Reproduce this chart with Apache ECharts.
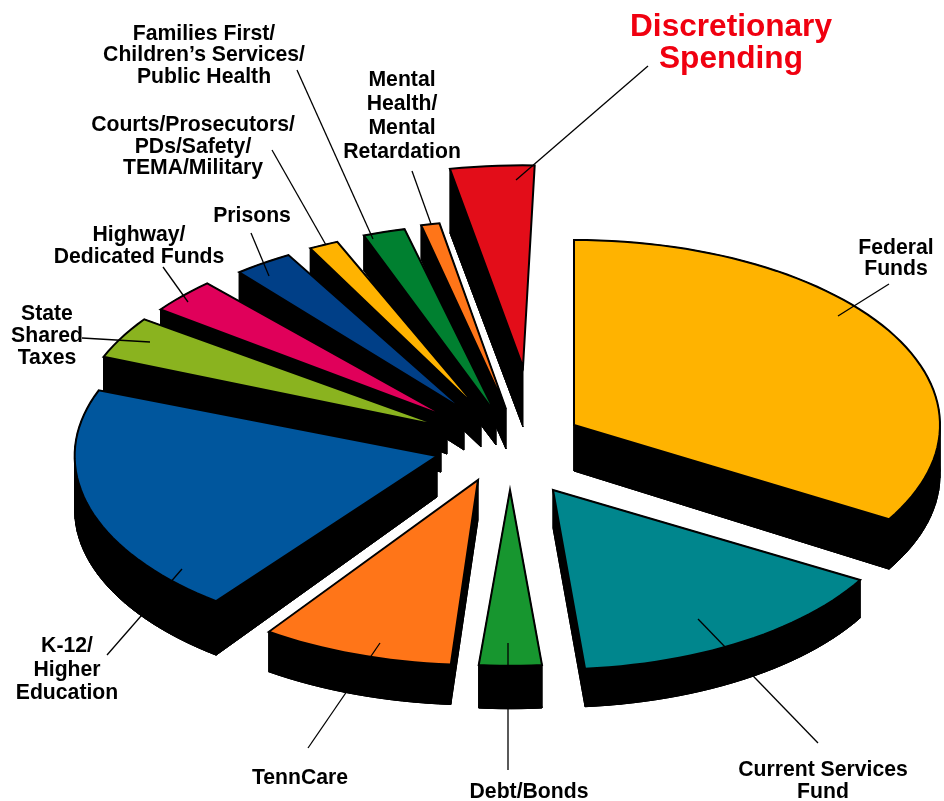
<!DOCTYPE html>
<html>
<head>
<meta charset="utf-8">
<style>html,body{margin:0;padding:0;background:#fff}#c{width:944px;height:801px}</style>
<script src="https://cdn.jsdelivr.net/npm/echarts@6/dist/echarts.min.js"></script>
</head>
<body>
<div id="c"></div>
<script>
// ---- data (share of budget, percent, clockwise from 12 o'clock) ----
const categories = ['Federal\nFunds','Current Services\nFund','Debt/Bonds','TennCare','K-12/\nHigher\nEducation',
  'State\nShared\nTaxes','Highway/\nDedicated Funds','Prisons','Courts/Prosecutors/\nPDs/Safety/\nTEMA/Military',
  'Families First/\nChildren\u2019s Services/\nPublic Health','Mental\nHealth/\nMental\nRetardation','Discretionary\nSpending'];
const values = [33.5,15.2,2.9,8.5,20.4,3.7,3.1,2.7,1.3,1.8,0.8,3.4];

// ---- styling and layout ----
const colors = ['#FFB300','#00868D','#17962F','#FF7518','#00569D','#8AB31F','#E0005A','#003F87','#FFB300','#008030','#FF7518','#E30D19'];
const gapBefore = [0,-0.5,-0.1,-0.9,2.7,1.1,1.2,2.7,2,2.6,0.9,-0.3];   // degrees of angular gap
const explodeX = [574,553,510,478,437,441,447,464,481,496,506,523];
const explodeY = [425,490,490,480,456,426,417,410,412,414,409,367];
const radiusScale = [1,0.97,0.95,1,0.99,0.995,0.975,0.965,1,1.03,1.02,1.09];
const rimDepth = [50,38,43,40,54,40,40,35,35,35,34,64];
const tipDepth = [46,38,43,40,41,46,37,40,35,31,40,60];
const wallArc = [1,1,1,1,1,1,1,1,1,1,1,0];   // share of the rim that is extruded
const RX = 366, RY = 185, START = -90;
const labelX = [896,823,529,300,67,47,139,252,193,204,402,731];
const labelY = [258.5,781,792,778,670,336,246,216,147,55.5,116,43];
const labelLH = [21,22,22,22,23.5,22,22,22,21.5,21.5,24,32];
const labelSize = [21.2,21.2,21.2,21.2,21.2,21.2,21.2,21.2,21.2,21.2,21.2,31.6];
const labelColor = ['#000','#000','#000','#000','#000','#000','#000','#000','#000','#000','#000','#F00010'];
const leaderA = [[838,316],[698,619],[508,643],[380,643],[182,569],[150,342],[188,302],[269,276],[326,245],[373,239],[431,224],[516,180]];
const leaderB = [[889,284],[818,743],[508,770],[308,748],[107,655],[82,338],[163,267],[251,233],[272,150],[297,70],[412,171],[648,66]];

// angular extents derived from the values
const spans = [];
(function(){ let a = START;
  values.forEach((v,i)=>{ a += gapBefore[i]; const s = v*3.6; spans.push([a,a+s]); a += s; });
})();

function renderSlice(params, api){
  const i = api.value(0);
  const [a0,a1] = spans[i];
  const ax = explodeX[i], ay = explodeY[i], sc = radiusScale[i];
  const top = [[ax,ay]], bottom = [[ax,ay+tipDepth[i]]];
  const n = Math.max(4, Math.ceil((a1-a0)/2));
  const wallN = Math.round(n*wallArc[i]);
  for(let k=0;k<=n;k++){
    const t = (a0+(a1-a0)*k/n)*Math.PI/180;
    const x = ax+RX*sc*Math.cos(t), y = ay+RY*sc*Math.sin(t);
    top.push([x,y]);
    if(k<=wallN) bottom.push([x,y+rimDepth[i]]);
  }
  const black = {fill:'#000',stroke:'#000',lineWidth:1};
  const children = [{type:'polygon',shape:{points:bottom},style:black}];
  for(let k=0;k<bottom.length;k++){
    const m=k+1;
    if(m>=bottom.length && wallArc[i]<1) break;
    const mm=m%bottom.length;
    children.push({type:'polygon',shape:{points:[top[k],top[mm],bottom[mm],bottom[k]]},style:black});
  }
  children.push({type:'polygon',shape:{points:top},style:{fill:colors[i],stroke:'#000',lineWidth:2,lineJoin:'miter'}});
  return {type:'group',children};
}

const order = values.map((v,i)=>[values.length-1-i, values[values.length-1-i]]); // back slices first

const leaders = leaderA.map((p,i)=>({type:'line',z:10,silent:true,
  shape:{x1:p[0],y1:p[1],x2:leaderB[i][0],y2:leaderB[i][1]},style:{stroke:'#000',lineWidth:1.3}}));
const labels = categories.map((c,i)=>({type:'text',z:11,silent:true,x:labelX[i],y:labelY[i],
  style:{text:c,fill:labelColor[i],font:'bold '+labelSize[i]+'px "Liberation Sans", Arial, sans-serif',
  align:'center',verticalAlign:'middle',lineHeight:labelLH[i]}}));

const chart = echarts.init(document.getElementById('c'),null,{width:944,height:801});
chart.setOption({
  animation:false,
  backgroundColor:'#fff',
  series:[{type:'custom',coordinateSystem:'none',renderItem:renderSlice,data:order,silent:true}],
  graphic:{elements:leaders.concat(labels)}
});
</script>
</body>
</html>
